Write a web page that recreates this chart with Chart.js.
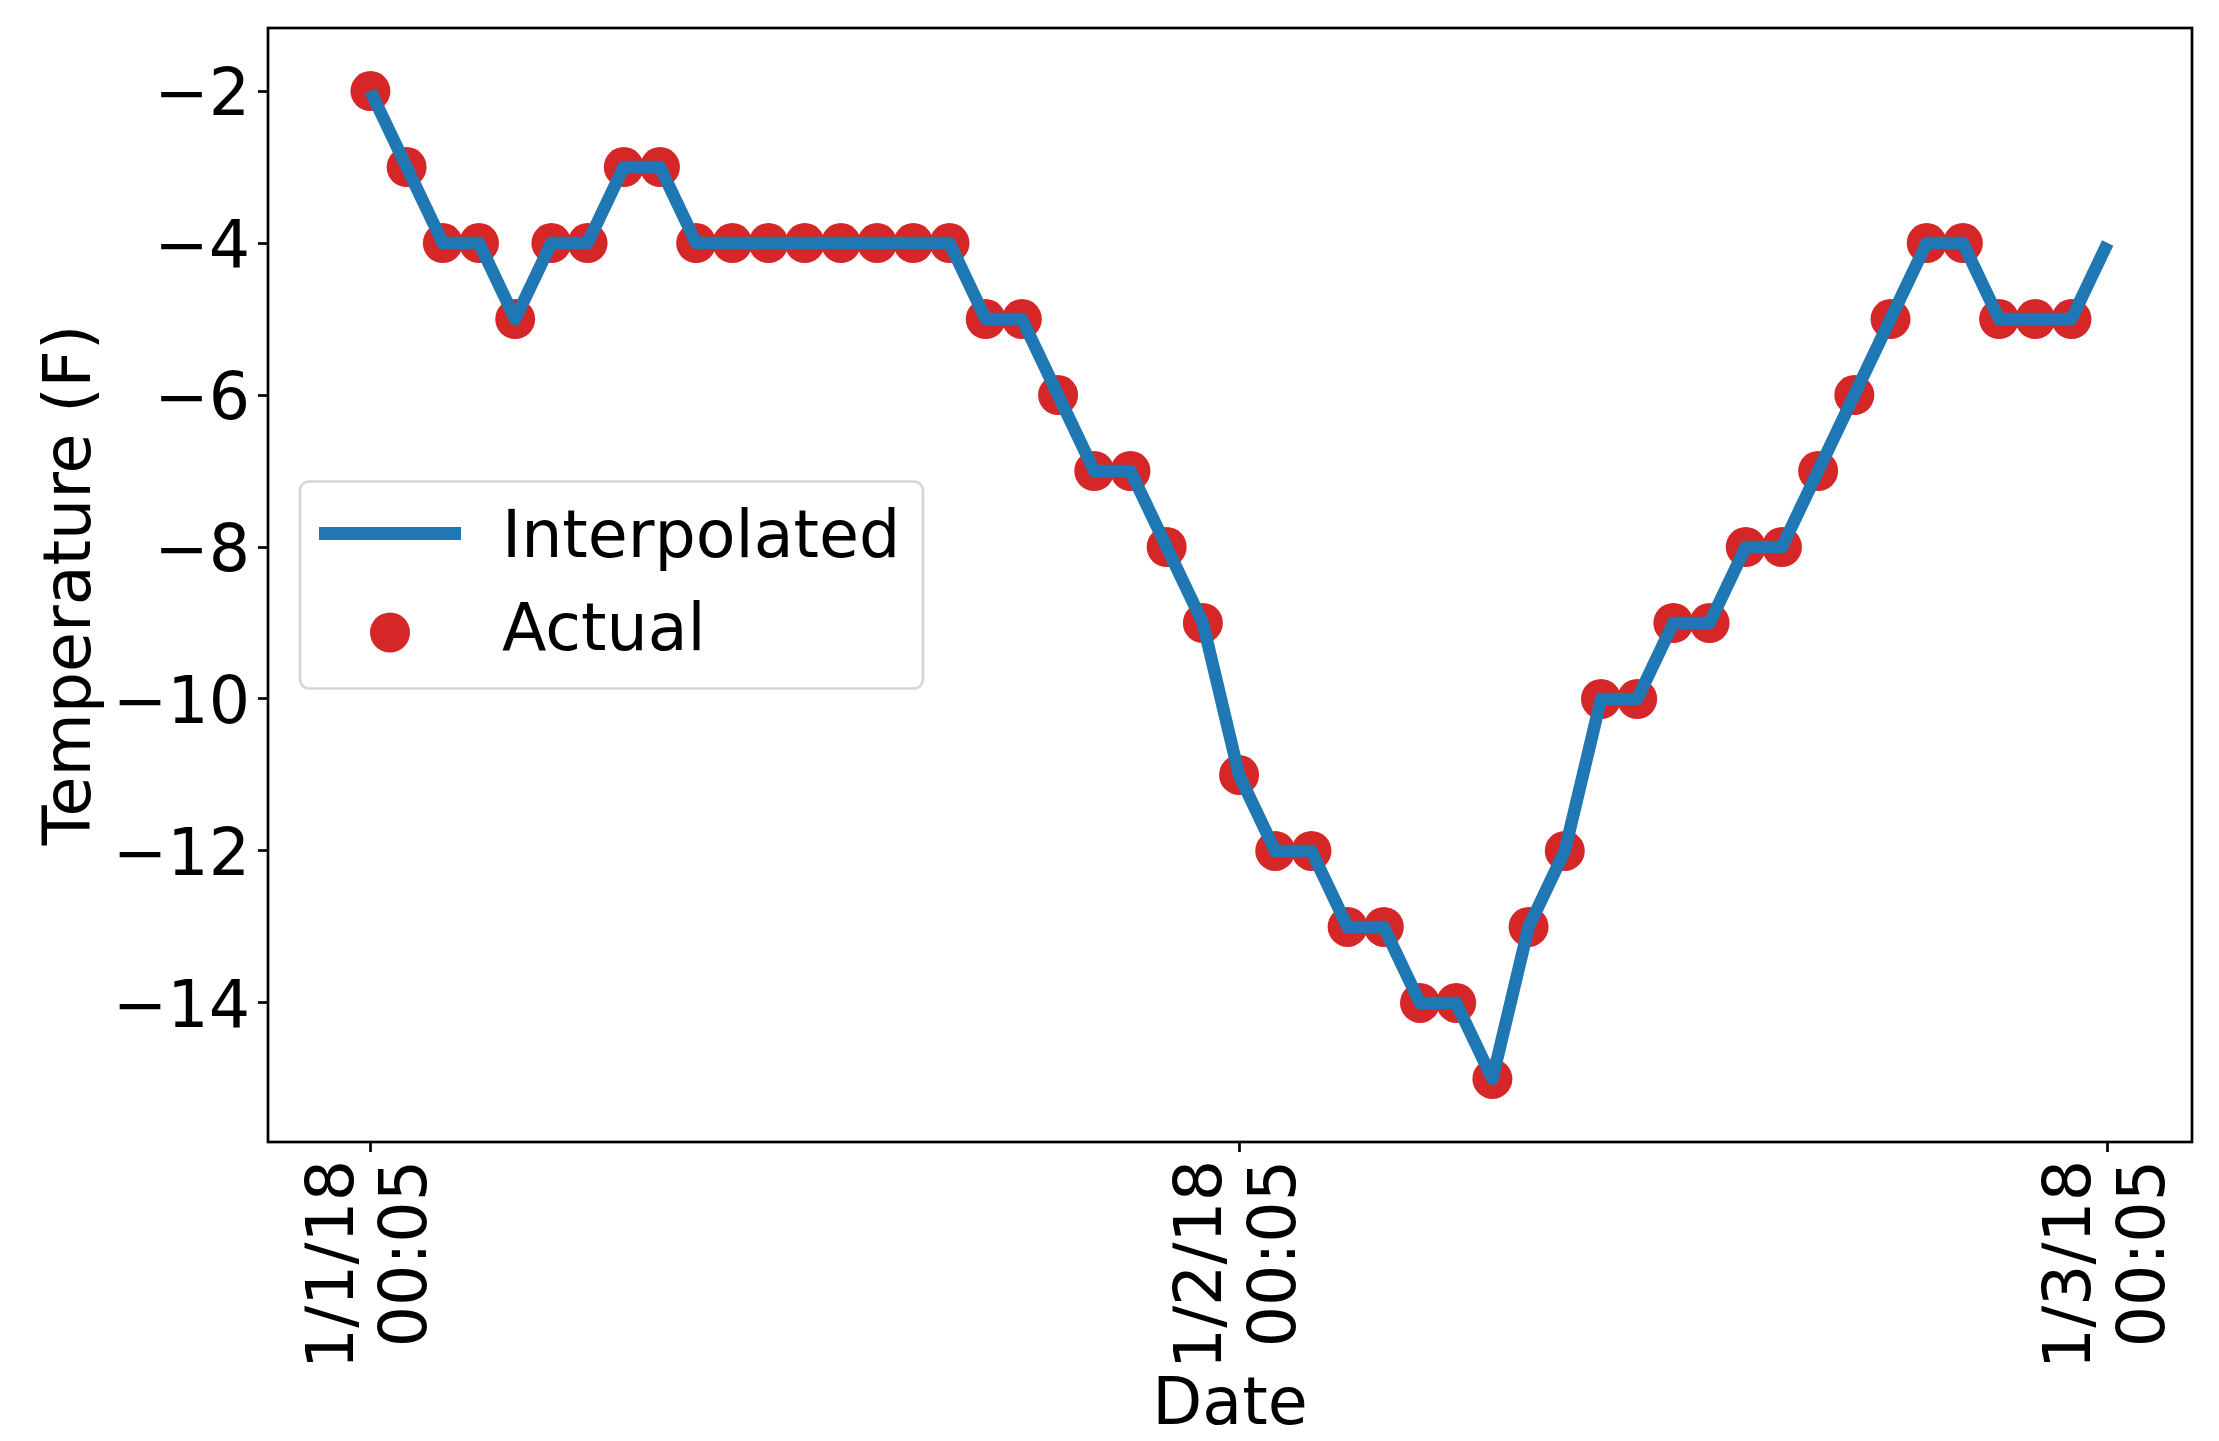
<!DOCTYPE html>
<html>
<head>
<meta charset="utf-8">
<script src="https://cdn.jsdelivr.net/npm/chart.js@4.4.1/dist/chart.umd.min.js"></script>
<style>
html,body{margin:0;padding:0;background:#fff;}
canvas{display:block;}
</style>
</head>
<body>
<canvas id="c" width="2219" height="1441"></canvas>
<script>
// ---- data (hours since 1/1/18 00:05) ----
const hours = [0,1,2,3,4,5,6,7,8,9,10,11,12,13,14,15,16,17,18,19,20,21,22,23,24,
               25,26,27,28,29,30,31,32,33,34,35,36,37,38,39,40,41,42,43,44,45,46,47,48];
const actualTemps = [-2,-3,-4,-4,-5,-4,-4,-3,-3,-4,-4,-4,-4,-4,-4,-4,-4,-5,-5,-6,-7,-7,-8,-9,
                     -11,-12,-12,-13,-13,-14,-14,-15,-13,-12,-10,-10,-9,-9,-8,-8,-7,-6,-5,-4,-4,-5,-5,-5];
const interpTemps = [-2,-3,-4,-4,-5,-4,-4,-3,-3,-4,-4,-4,-4,-4,-4,-4,-4,-5,-5,-6,-7,-7,-8,-9,
                     -11,-12,-12,-13,-13,-14,-14,-15,-13,-12,-10,-10,-9,-9,-8,-8,-7,-6,-5,-4,-4,-5,-5,-5,-4];
const seriesNames = ['Interpolated', 'Actual'];
const xTickHours = [0, 24, 48];
const xTickLabels = [['1/1/18', '00:05'], ['1/2/18', '00:05'], ['1/3/18', '00:05']];
const yTicks = [-14, -12, -10, -8, -6, -4, -2];
const xTitle = 'Date';
const yTitle = 'Temperature (F)';

const LINE_COLOR = '#1f77b4';
const DOT_COLOR = '#d62728';
const FONT = "'DejaVu Sans'";

Chart.defaults.font.family = FONT;
Chart.defaults.color = '#000';

const interpData = interpTemps.map((t, i) => ({x: hours[i], y: t}));
const actualData = actualTemps.map((t, i) => ({x: hours[i], y: t}));

const fmtY = v => (v < 0 ? '\u2212' + Math.abs(v) : String(v));

const framePlugin = {
  id: 'frameAndLegend',
  afterDatasetsDraw(chart) {
    const {ctx, chartArea: a} = chart;
    ctx.save();
    ctx.strokeStyle = '#000';
    ctx.lineWidth = 2.7;
    ctx.strokeRect(a.left, a.top, a.right - a.left, a.bottom - a.top);
    ctx.restore();
  },
  afterDraw(chart) {
    const {ctx, chartArea: a} = chart;
    const cy = (a.top + a.bottom) / 2;
    const bx = a.left + 32, by = cy - 103.5, bw = 623, bh = 207, r = 9;
    ctx.save();
    ctx.beginPath();
    ctx.moveTo(bx + r, by);
    ctx.lineTo(bx + bw - r, by);
    ctx.arcTo(bx + bw, by, bx + bw, by + r, r);
    ctx.lineTo(bx + bw, by + bh - r);
    ctx.arcTo(bx + bw, by + bh, bx + bw - r, by + bh, r);
    ctx.lineTo(bx + r, by + bh);
    ctx.arcTo(bx, by + bh, bx, by + bh - r, r);
    ctx.lineTo(bx, by + r);
    ctx.arcTo(bx, by, bx + r, by, r);
    ctx.closePath();
    ctx.fillStyle = 'rgba(255,255,255,0.8)';
    ctx.fill();
    ctx.lineWidth = 2.7;
    ctx.strokeStyle = 'rgba(204,204,204,0.8)';
    ctx.stroke();

    // line handle
    ctx.beginPath();
    ctx.strokeStyle = LINE_COLOR;
    ctx.lineWidth = 13;
    ctx.lineCap = 'butt';
    ctx.moveTo(a.left + 51, cy - 51.5);
    ctx.lineTo(a.left + 193, cy - 51.5);
    ctx.stroke();

    // dot handle
    ctx.beginPath();
    ctx.fillStyle = DOT_COLOR;
    ctx.arc(a.left + 122, cy + 47.5, 20, 0, Math.PI * 2);
    ctx.fill();

    ctx.fillStyle = '#000';
    ctx.font = '65px ' + FONT;
    ctx.textBaseline = 'alphabetic';
    ctx.textAlign = 'left';
    ctx.fillText(seriesNames[0], a.left + 234, cy - 28.5);
    ctx.fillText(seriesNames[1], a.left + 234, cy + 64.5);
    ctx.restore();
  }
};

const gridOpts = {
  display: true,
  drawOnChartArea: false,
  drawTicks: true,
  tickLength: 10,
  tickWidth: 2.7,
  tickColor: '#000'
};

const zeroPad = s => { s.paddingTop = 0; s.paddingBottom = 0; s.paddingLeft = 0; s.paddingRight = 0; };

new Chart(document.getElementById('c'), {
  type: 'scatter',
  data: {
    datasets: [
      {
        label: seriesNames[0],
        data: interpData,
        showLine: true,
        borderColor: LINE_COLOR,
        backgroundColor: LINE_COLOR,
        borderWidth: 12.5,
        borderJoinStyle: 'round',
        borderCapStyle: 'butt',
        pointRadius: 0,
        pointHoverRadius: 0,
        tension: 0
      },
      {
        label: seriesNames[1],
        data: actualData,
        showLine: false,
        backgroundColor: DOT_COLOR,
        borderColor: DOT_COLOR,
        borderWidth: 0,
        pointRadius: 20,
        pointHoverRadius: 20
      }
    ]
  },
  options: {
    responsive: false,
    animation: false,
    devicePixelRatio: 1,
    layout: {padding: {top: 28, right: 27, bottom: 0, left: 0}},
    plugins: {
      legend: {display: false},
      tooltip: {enabled: false}
    },
    scales: {
      x: {
        type: 'linear',
        min: -2.83,
        max: 50.33,
        afterBuildTicks: s => { s.ticks = xTickHours.map(v => ({value: v})); },
        afterFit: s => { s.height = 299; zeroPad(s); },
        ticks: {
          autoSkip: false,
          minRotation: 90,
          maxRotation: 90,
          padding: 8,
          labelOffset: -34.5,
          color: '#000',
          font: {size: 65, lineHeight: 1.13},
          callback: (v, i) => xTickLabels[i]
        },
        grid: gridOpts,
        border: {display: false},
        title: {
          display: true, text: xTitle, color: '#000',
          font: {size: 65, lineHeight: 1.05},
          padding: {top: 0, bottom: 0}
        }
      },
      y: {
        type: 'linear',
        min: -15.83,
        max: -1.17,
        afterBuildTicks: s => { s.ticks = yTicks.map(v => ({value: v})); },
        afterFit: s => { s.width = 268; zeroPad(s); },
        ticks: {
          padding: 8,
          labelOffset: 7,
          color: '#000',
          font: {size: 65},
          callback: v => fmtY(v)
        },
        grid: gridOpts,
        border: {display: false},
        title: {
          display: true, text: yTitle, color: '#000',
          font: {size: 65, lineHeight: 1.2},
          padding: {top: 34, bottom: 0}
        }
      }
    }
  },
  plugins: [framePlugin]
});
</script>
</body>
</html>
